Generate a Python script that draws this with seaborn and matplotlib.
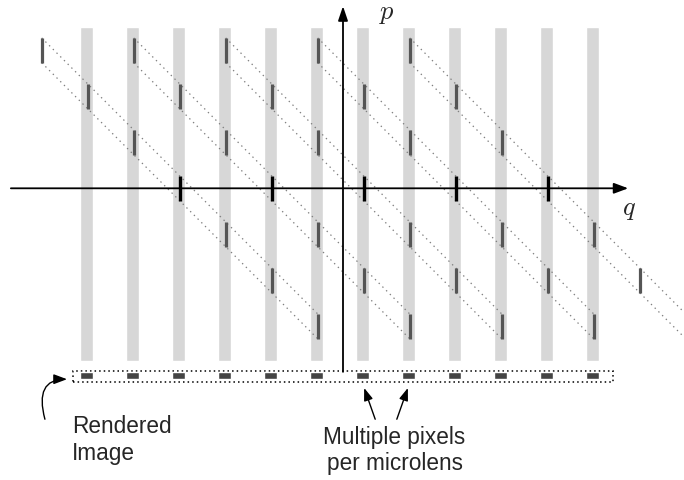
import pandas as pd
import matplotlib
matplotlib.use('Agg')
import matplotlib.pyplot as plt
from matplotlib.patches import FancyArrowPatch, Rectangle
import seaborn as sns

sns.set_style('white')
plt.rcParams['font.family'] = ['Liberation Sans', 'DejaVu Sans']
plt.rcParams['mathtext.fontset'] = 'cm'

# one unit = one microlens pitch, on both axes
lens_q = [-5.58, -4.58, -3.58, -2.58, -1.58, -0.58, 0.42, 1.42, 2.42, 3.42, 4.42, 5.42]
lens_top = 3.51
lens_bottom = -3.75
lens_width = 0.28

# pixel samples in (q, p) space, one list of q per row p
row_p = [3, 2, 1, 0, -1, -2, -3]
row_q = [
    [-6.55, -4.55, -2.55, -0.55, 1.45],
    [-5.55, -3.55, -1.55, 0.45, 2.45],
    [-4.55, -2.55, -0.55, 1.45, 3.45],
    [-3.55, -1.55, 0.45, 2.45, 4.45],
    [-2.55, -0.55, 1.45, 3.45, 5.45],
    [-1.55, 0.45, 2.45, 4.45, 6.45],
    [-0.55, 1.45, 3.45, 5.45, 7.45],
]
seg_half = 0.27

# rendered image strip
strip_left, strip_right = -5.87, 5.87
strip_top, strip_bottom = -3.98, -4.22
pix_top, pix_bottom = -4.00, -4.14

# build tables
rows = []
for p, qs in zip(row_p, row_q):
    for chain, q in enumerate(qs):
        rows.append({'q': q, 'p': p, 'chain': chain})
seg = pd.DataFrame(rows)

lines = []
for chain, g in seg.groupby('chain'):
    g = g.sort_values('p', ascending=False)
    for edge, off in [('top', seg_half), ('bottom', -seg_half)]:
        for q, p in zip(g['q'], g['p']):
            lines.append({'q': q, 'p': p + off, 'line': f'{chain}-{edge}'})
lines = pd.DataFrame(lines)

fig = plt.figure(figsize=(6.84, 4.8), dpi=100)
ax = fig.add_axes([0, 0, 1, 1])

# microlens columns
ax.bar(lens_q, lens_top - lens_bottom, bottom=lens_bottom, width=lens_width,
       color='#d7d7d7', zorder=1)

# sheared pixel footprints
sns.lineplot(data=lines, x='q', y='p', units='line', estimator=None, sort=False,
             color='#7f7f7f', lw=0.9, linestyle=(0, (1.1, 3.1)), legend=False,
             ax=ax, zorder=2)

# axes with arrows
ax.add_patch(FancyArrowPatch((-7.22, 0), (6.20, 0), arrowstyle='-|>,head_length=8.6,head_width=3.2',
                             mutation_scale=1, lw=1.3, color='black', shrinkA=0, shrinkB=0, zorder=3))
ax.add_patch(FancyArrowPatch((0, -3.99), (0, 3.96), arrowstyle='-|>,head_length=8.6,head_width=2.9',
                             mutation_scale=1, lw=1.3, color='black', shrinkA=0, shrinkB=0, zorder=3))
ax.text(0.95, 3.69, r'$p$', fontsize=19, ha='center', va='baseline')
ax.text(6.21, -0.57, r'$q$', fontsize=19, ha='center', va='baseline')

# pixel samples
on_axis = seg['p'] == 0
ax.vlines(seg.loc[~on_axis, 'q'], seg.loc[~on_axis, 'p'] - seg_half, seg.loc[~on_axis, 'p'] + seg_half,
          color='#555555', lw=2.3, zorder=4)
ax.vlines(seg.loc[on_axis, 'q'], seg.loc[on_axis, 'p'] - seg_half, seg.loc[on_axis, 'p'] + seg_half,
          color='black', lw=2.4, zorder=4)

# rendered image strip
ax.add_patch(Rectangle((strip_left, strip_bottom), strip_right - strip_left, strip_top - strip_bottom,
                       fill=False, ec='black', lw=1.1, ls=(0, (1, 2.0)), zorder=3))
ax.bar(lens_q, pix_top - pix_bottom, bottom=pix_bottom, width=lens_width, color='#444444', zorder=4)

# annotations
ax.add_patch(FancyArrowPatch((-6.48, -5.02), (-6.00, -4.15),
                             connectionstyle='angle3,angleA=105,angleB=0',
                             arrowstyle='-|>,head_length=8,head_width=3', mutation_scale=1,
                             lw=1.0, color='black', shrinkA=0, shrinkB=0))
ax.text(-5.89, -5.32, 'Rendered', fontsize=16.3, ha='left', va='baseline')
ax.text(-5.89, -5.91, 'Image', fontsize=16.3, ha='left', va='baseline')

for start, end in [((0.70, -5.02), (0.46, -4.34)), ((1.17, -5.02), (1.41, -4.34))]:
    ax.add_patch(FancyArrowPatch(start, end, arrowstyle='-|>,head_length=7.5,head_width=2.7',
                                 mutation_scale=1, lw=1.0, color='black', shrinkA=0, shrinkB=0))
ax.text(1.12, -5.56, 'Multiple pixels', fontsize=16.3, ha='center', va='baseline')
ax.text(1.12, -6.13, 'per microlens', fontsize=16.3, ha='center', va='baseline')

ax.set_xlim(-7.4565, 7.413)
ax.set_ylim(-6.341, 4.0935)
ax.axis('off')

plt.savefig('out.png', dpi=100)
